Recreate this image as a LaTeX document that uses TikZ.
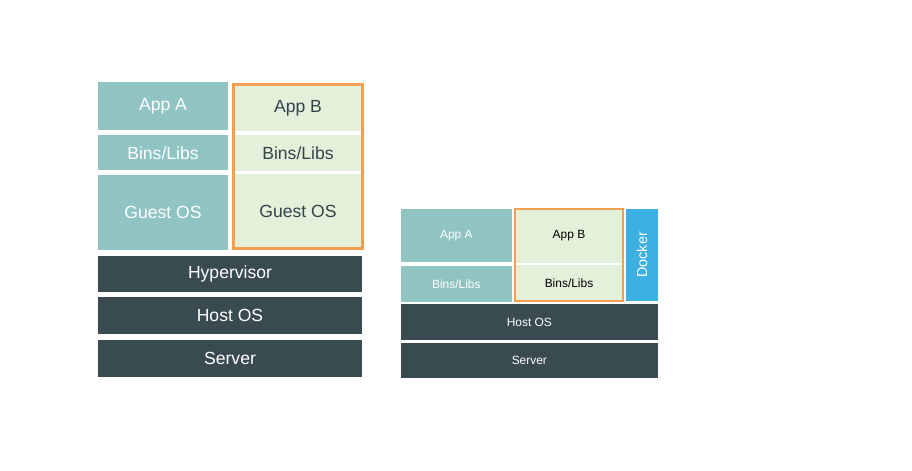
\documentclass[tikz,border=0pt]{standalone}
\usepackage{fontspec}
\setmainfont{Liberation Sans}
\usetikzlibrary{positioning, fit}
\definecolor{cteal}{HTML}{8FC4C3}
\definecolor{cgreen}{HTML}{E3F0DA}
\definecolor{cslate}{HTML}{394A51}
\definecolor{corange}{HTML}{F2A04F}
\definecolor{cblue}{HTML}{3DB0E3}
\definecolor{ctext}{HTML}{33434A}
\tikzset{
  layer/.style={fill=#1, inner sep=0pt, align=center},
  tealbox/.style={layer=cteal, text=white},
  greenbox/.style={layer=cgreen, text=ctext},
  darkbox/.style={layer=cslate, text=white},
  dockbox/.style={layer=cblue, text=white},
  frame/.style={draw=corange, inner sep=0pt},
  big/.style={font=\fontsize{10}{12}\selectfont},
  small/.style={font=\fontsize{6.8}{8}\selectfont},
}
\begin{document}
\begin{tikzpicture}
  \useasboundingbox (0,0) rectangle (18.24,-9.42);
  % virtual machines
  \node[tealbox, big, minimum width=2.6cm, minimum height=0.96cm] (appA) at (3.26,-2.12) {App A};
  \node[tealbox, big, minimum width=2.6cm, minimum height=0.69cm] (binsA) at (3.26,-3.055) {Bins/Libs};
  \node[tealbox, big, minimum width=2.6cm, minimum height=1.5cm] (guestA) at (3.26,-4.25) {Guest OS};
  \node[greenbox, big, minimum width=2.56cm, minimum height=0.94cm] (appB) at (5.96,-2.16) {App B};
  \node[greenbox, big, minimum width=2.56cm, minimum height=0.71cm] (binsB) at (5.96,-3.06) {Bins/Libs};
  \node[greenbox, big, minimum width=2.56cm, minimum height=1.47cm] (guestB) at (5.96,-4.22) {Guest OS};
  \node[frame, line width=1.7pt, fit=(appB)(guestB)] (vmB) {};
  \node[darkbox, big, minimum width=5.28cm, minimum height=0.72cm] (hyper) at (4.6,-5.48) {Hypervisor};
  \node[darkbox, big, minimum width=5.28cm, minimum height=0.73cm] (hostL) at (4.6,-6.315) {Host OS};
  \node[darkbox, big, minimum width=5.28cm, minimum height=0.73cm] (serverL) at (4.6,-7.167) {Server};
  % containers
  \node[tealbox, small, minimum width=2.21cm, minimum height=1.06cm] (appA2) at (9.127,-4.71) {App A};
  \node[tealbox, small, minimum width=2.21cm, minimum height=0.714cm] (binsA2) at (9.127,-5.677) {Bins/Libs};
  \node[greenbox, small, text=black, minimum width=2.16cm, minimum height=1.08cm] (appB2) at (11.38,-4.72) {App B};
  \node[greenbox, small, text=black, minimum width=2.16cm, minimum height=0.71cm] (binsB2) at (11.38,-5.665) {Bins/Libs};
  \node[frame, line width=1.1pt, fit=(appB2)(binsB2)] (ctB) {};
  \node[dockbox, minimum width=0.634cm, minimum height=1.84cm] (docker) at (12.837,-5.1) {};
  \node[font=\fontsize{8.2}{9}\selectfont, text=white, rotate=90] at (docker.center) {Docker};
  \node[darkbox, small, minimum width=5.134cm, minimum height=0.714cm] (hostR) at (10.587,-6.443) {Host OS};
  \node[darkbox, small, minimum width=5.134cm, minimum height=0.7cm] (serverR) at (10.587,-7.204) {Server};
\end{tikzpicture}
\end{document}
